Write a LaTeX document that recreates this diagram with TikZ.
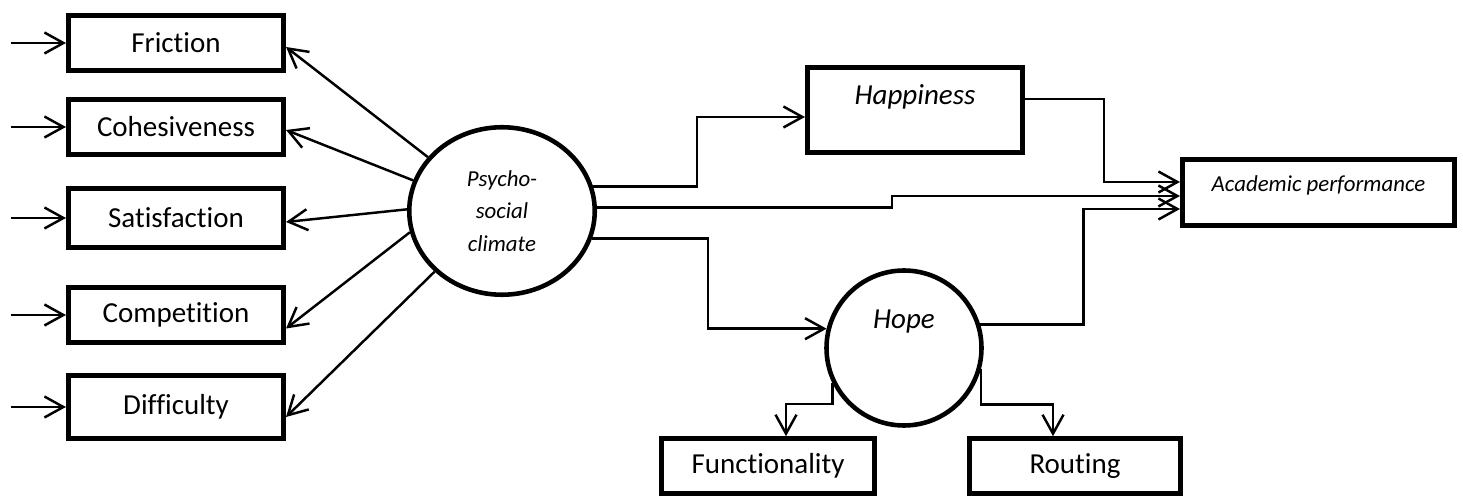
\documentclass[tikz,border=0pt]{standalone}
\usepackage{fontspec}
\setmainfont{Carlito}[Ligatures=NoCommon]
\usetikzlibrary{arrows.meta,shapes.geometric}
\tikzset{
  box/.style={draw=black, line width=2.6pt, minimum width=4.31cm,
              minimum height=1.1cm, inner sep=2pt, align=center,
              font=\fontsize{16.5}{20}\selectfont},
  latent/.style={draw=black, line width=2.6pt, inner sep=1pt,
                 align=center},
  lab/.style={font=\fontsize{16.5}{20}\selectfont\itshape},
  smalllab/.style={font=\fontsize{13}{18.5}\selectfont\itshape},
  flow/.style={-{Straight Barb[length=3.8mm,width=4.2mm]}, line width=1.4pt},
}
\begin{document}
\begin{tikzpicture}[x=1cm,y=1cm]
  \path[use as bounding box] (0,0) rectangle (29.26,9.96);

  % Observed indicators of the climate.
  \node[box] (fric) at (3.52,9.10) {Friction};
  \node[box] (cohe) at (3.52,7.42) {Cohesiveness};
  \node[box, minimum height=1.19cm] (sati) at (3.52,5.60) {Satisfaction};
  \node[box] (comp) at (3.52,3.66) {Competition};
  \node[box, minimum height=1.27cm] (diff) at (3.52,1.82) {Difficulty};

  \foreach \n in {fric,cohe,sati,comp,diff}{
    \coordinate (in\n) at ([xshift=-1.1cm]\n.west);
    \draw[flow] (in\n) -- (\n.west);
  }

  % Latent climate.
  \node[latent, ellipse, minimum width=3.71cm, minimum height=3.35cm,
        smalllab] (psy) at (10.04,5.74) {Psycho-\\social\\climate};

  \draw[flow] (psy.144) -- ([yshift=-0.08cm]fric.east);
  \draw[flow] (psy.161) -- ([yshift=-0.06cm]cohe.east);
  \draw[flow] (psy.179) -- ([yshift=-0.08cm]sati.east);
  \draw[flow] (psy.193) -- ([yshift=-0.27cm]comp.east);
  \draw[flow] (psy.222) -- ([yshift=-0.2cm]diff.east);

  % Mediators and outcome.
  \node[box, minimum height=1.71cm,
        label={[lab, yshift=0.26cm]center:Happiness}] (happ) at (18.30,7.76) {};
  \node[box, minimum width=5.45cm, minimum height=1.33cm,
        label={[smalllab, yshift=0.14cm]center:Academic performance}] (acad) at (26.37,6.11) {};
  \node[latent, circle, minimum size=3.1cm,
        label={[lab, yshift=0.52cm]center:Hope}] (hope) at (18.08,3.00) {};

  \node[box, minimum width=4.27cm] (func) at (15.36,0.64) {Functionality};
  \node[box, minimum width=4.23cm] (rout) at (21.50,0.64) {Routing};

  \draw[flow] (psy.15) -- ++(2.08,0) |- ([yshift=-0.14cm]happ.west);
  \draw[flow] (psy.2) -- ++(5.9,0) |- ([yshift=-0.07cm]acad.west);
  \draw[flow] (psy.-17) -- ++(2.32,0) |- (hope.166);
  \draw[flow] ([yshift=0.22cm]happ.east) -- ++(1.58,0) |- ([yshift=0.21cm]acad.west);
  \draw[flow] (hope.17) -- ++(2.06,0) |- ([yshift=-0.33cm]acad.west);
  \draw[flow] (hope.206) -- ++(0,-0.42) -| ([xshift=0.36cm]func.north);
  \draw[flow] (hope.-15) -- ++(0,-0.72) -| ([xshift=-0.44cm]rout.north);
\end{tikzpicture}
\end{document}
